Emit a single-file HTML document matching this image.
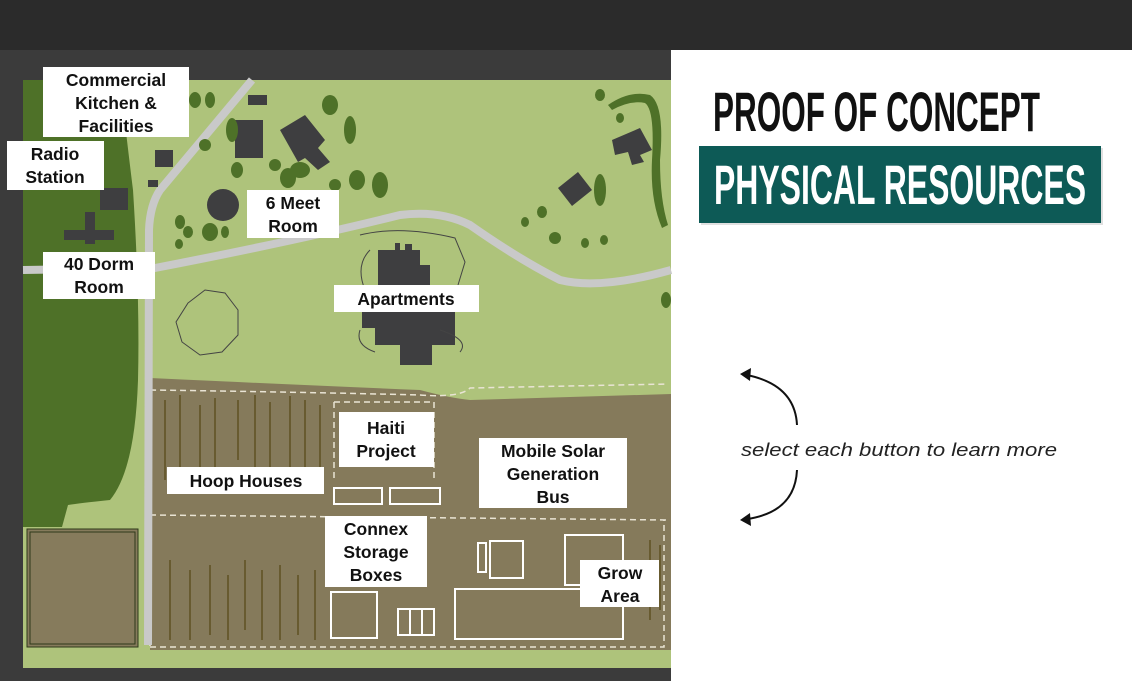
<!DOCTYPE html>
<html><head><meta charset="utf-8"><style>
html,body{margin:0;padding:0;width:1132px;height:681px;overflow:hidden;background:#fff}
svg{display:block}
.l{font-family:"Liberation Sans",sans-serif;font-weight:bold;font-size:17.5px;fill:#111;text-anchor:middle}
</style></head><body>
<svg width="1132" height="681" viewBox="0 0 1132 681">
<rect x="0" y="0" width="1132" height="50" fill="#2b2b2b"/>
<rect x="0" y="50" width="671" height="631" fill="#3b3b3b"/>
<rect x="671" y="50" width="461" height="631" fill="#fff"/>
<!-- map -->
<rect x="23" y="80" width="648" height="588" fill="#aec37b"/>
<path d="M23 80 H120 Q128 150 133 190 Q140 300 138 380 Q135 470 110 500 Q80 503 68 505 L62 527 H23 Z" fill="#4e7128"/>
<!-- brown area -->
<path d="M150 378 Q300 385 420 390 Q450 398 470 400 L671 394 V650 H150 Z" fill="#857a5b"/>
<g stroke="#5d4f1e" stroke-width="2" opacity="0.7">
<path d="M165 400 V480 M180 395 V490 M200 405 V470 M215 398 V485 M238 400 V460 M255 395 V480 M270 402 V470 M290 396 V485 M305 400 V470 M320 405 V480 M170 560 V640 M190 570 V640 M210 565 V635 M228 575 V640 M245 560 V630 M262 570 V640 M280 565 V640 M298 575 V635 M315 570 V640 M650 540 V620 M660 545 V610"/>
</g>
<g fill="none" stroke="#e9e4d4" stroke-width="1.5" stroke-dasharray="6 4">
<path d="M150 390 Q300 392 420 395 Q460 398 470 388 L668 384"/>
<path d="M150 515 L668 520"/>
<path d="M150 647 H664 V520"/>
<path d="M150 390 V647"/>
<path d="M334 402 H434 V480 M334 402 V480"/>
</g>
<g fill="none" stroke="#fff" stroke-width="2">
<rect x="334" y="488" width="48" height="16"/>
<rect x="390" y="488" width="50" height="16"/>
<rect x="331" y="592" width="46" height="46"/>
<rect x="398" y="609" width="36" height="26"/><path d="M410 609V635M422 609V635"/>
<rect x="478" y="543" width="8" height="29"/>
<rect x="490" y="541" width="33" height="37"/>
<rect x="565" y="535" width="58" height="50"/>
<rect x="455" y="589" width="168" height="50"/>
</g>
<rect x="27" y="529" width="111" height="118" fill="#867b5c" stroke="#2e3a1a" stroke-width="1"/>
<rect x="30" y="532" width="105" height="112" fill="none" stroke="#2e3a1a" stroke-width="1"/>
<g fill="none" stroke="#c9c9c9" stroke-width="8">
<path d="M252 80 L160 190 Q150 205 149 230 L148 645"/>
<path d="M23 270 L155 268 Q300 240 400 215 Q440 210 470 225 Q520 260 560 280 Q600 290 671 270"/>
</g>
<g fill="#3e3e40">
<rect x="248" y="95" width="19" height="10"/>
<rect x="235" y="120" width="28" height="38"/>
<path d="M280 130 L305 115 L325 140 L318 148 L330 162 L318 170 L305 158 L298 162 Z"/>
<rect x="155" y="150" width="18" height="17"/>
<rect x="148" y="180" width="10" height="7"/>
<rect x="100" y="188" width="28" height="22"/>
<rect x="85" y="212" width="10" height="32"/><rect x="64" y="230" width="50" height="10"/>
<circle cx="223" cy="205" r="16"/>
<path d="M612 140 L640 128 L652 150 L640 155 L644 162 L632 165 L628 152 L615 155 Z"/>
<path d="M558 188 L578 172 L592 190 L572 206 Z"/>
<path d="M378 250 H395 V243 H400 V250 H405 V244 H412 V250 H420 V265 H430 V288 H455 V345 H432 V365 H400 V345 H375 V328 H362 V285 H378 Z"/>
</g>
<g fill="none" stroke="#444" stroke-width="1">
<path d="M188 303 L205 290 L225 293 L238 310 L238 335 L222 352 L200 355 L182 342 L176 322 Z"/>
<path d="M360 235 Q400 225 455 238 L465 262 L458 285 M370 250 Q355 265 365 290 M360 330 Q355 345 375 352 M440 330 Q470 340 460 352"/>
</g>
<g fill="#4e7128">
<ellipse cx="195" cy="100" rx="6" ry="8"/><ellipse cx="210" cy="100" rx="5" ry="8"/>
<ellipse cx="330" cy="105" rx="8" ry="10"/><ellipse cx="350" cy="130" rx="6" ry="14"/>
<ellipse cx="232" cy="130" rx="6" ry="12"/><ellipse cx="205" cy="145" rx="6" ry="6"/>
<ellipse cx="237" cy="170" rx="6" ry="8"/><ellipse cx="275" cy="165" rx="6" ry="6"/>
<ellipse cx="288" cy="178" rx="8" ry="10"/><ellipse cx="300" cy="170" rx="10" ry="8"/>
<ellipse cx="335" cy="185" rx="6" ry="6"/><ellipse cx="357" cy="180" rx="8" ry="10"/>
<ellipse cx="380" cy="185" rx="8" ry="13"/><ellipse cx="180" cy="222" rx="5" ry="7"/>
<ellipse cx="188" cy="232" rx="5" ry="6"/><ellipse cx="210" cy="232" rx="8" ry="9"/>
<ellipse cx="225" cy="232" rx="4" ry="6"/><ellipse cx="179" cy="244" rx="4" ry="5"/>
<ellipse cx="600" cy="95" rx="5" ry="6"/><ellipse cx="620" cy="118" rx="4" ry="5"/>
<ellipse cx="600" cy="190" rx="6" ry="16"/><ellipse cx="542" cy="212" rx="5" ry="6"/>
<ellipse cx="525" cy="222" rx="4" ry="5"/><ellipse cx="555" cy="238" rx="6" ry="6"/>
<ellipse cx="585" cy="243" rx="4" ry="5"/><ellipse cx="604" cy="240" rx="4" ry="5"/>
<ellipse cx="666" cy="300" rx="5" ry="8"/>
</g>
<path d="M608 105 Q630 90 650 95 Q665 105 660 160 Q660 200 668 225 L662 228 Q650 200 652 160 Q655 110 645 103 Q630 100 612 110 Z" fill="#4e7128"/>
<g>
<rect x="43" y="67" width="146" height="70" fill="#fff"/>
<text class="l" x="116" y="86">Commercial</text><text class="l" x="116" y="109">Kitchen &amp;</text><text class="l" x="116" y="132">Facilities</text>
<rect x="7" y="141" width="97" height="49" fill="#fff"/>
<text class="l" x="55" y="160">Radio</text><text class="l" x="55" y="183">Station</text>
<rect x="247" y="190" width="92" height="48" fill="#fff"/>
<text class="l" x="293" y="209">6 Meet</text><text class="l" x="293" y="232">Room</text>
<rect x="43" y="252" width="112" height="47" fill="#fff"/>
<text class="l" x="99" y="270">40 Dorm</text><text class="l" x="99" y="293">Room</text>
<rect x="334" y="285" width="145" height="27" fill="#fff"/>
<text class="l" x="406" y="305">Apartments</text>
<rect x="339" y="412" width="95" height="55" fill="#fff"/>
<text class="l" x="386" y="434">Haiti</text><text class="l" x="386" y="457">Project</text>
<rect x="167" y="467" width="157" height="27" fill="#fff"/>
<text class="l" x="246" y="487">Hoop Houses</text>
<rect x="479" y="438" width="148" height="70" fill="#fff"/>
<text class="l" x="553" y="457">Mobile Solar</text><text class="l" x="553" y="480">Generation</text><text class="l" x="553" y="503">Bus</text>
<rect x="325" y="516" width="102" height="71" fill="#fff"/>
<text class="l" x="376" y="535">Connex</text><text class="l" x="376" y="558">Storage</text><text class="l" x="376" y="581">Boxes</text>
<rect x="580" y="560" width="79" height="47" fill="#fff"/>
<text class="l" x="620" y="579">Grow</text><text class="l" x="620" y="602">Area</text>
</g>
<text x="713" y="131" font-family="'Liberation Sans Narrow','Liberation Sans',sans-serif" font-weight="bold" font-size="56" textLength="327" lengthAdjust="spacingAndGlyphs" fill="#111">PROOF OF CONCEPT</text>
<rect x="701" y="148" width="402" height="77" fill="#000" opacity="0.12"/>
<rect x="699" y="146" width="402" height="77" fill="#0d5a56"/>
<text x="714" y="204" font-family="'Liberation Sans Narrow','Liberation Sans',sans-serif" font-weight="bold" font-size="56" textLength="372" lengthAdjust="spacingAndGlyphs" fill="#fff">PHYSICAL RESOURCES</text>
<text x="741" y="456" font-family="'Liberation Sans',sans-serif" font-style="italic" font-size="18" textLength="316" lengthAdjust="spacingAndGlyphs" fill="#222">select each button to learn more</text>
<g fill="none" stroke="#111" stroke-width="2">
<path d="M747 375 Q795 385 797 425"/>
<path d="M797 470 Q795 512 747 519"/>
</g>
<path d="M740 374 L751 368 L750 381 Z" fill="#111"/>
<path d="M740 520 L750 513 L751 526 Z" fill="#111"/>
</svg>
</body></html>
